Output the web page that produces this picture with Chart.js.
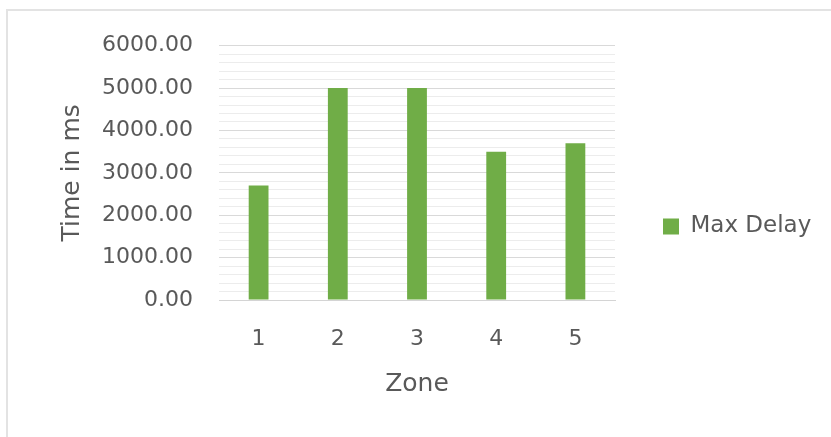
<!DOCTYPE html>
<html>
<head>
<meta charset="utf-8">
<script src="https://cdn.jsdelivr.net/npm/chart.js@4/dist/chart.umd.min.js"></script>
<style>
  html, body { margin: 0; padding: 0; background: #fff; overflow: hidden; }
  #frame {
    position: absolute; left: 6px; top: 9px;
    width: 900px; height: 500px;
    border: 2px solid #e3e3e3; box-sizing: border-box;
  }
  #myChart { position: absolute; left: 0; top: 0; }
</style>
</head>
<body>
<div id="frame"><canvas id="myChart" width="823" height="434"></canvas></div>
<script>
// zones on the x axis and the delay measured in each
const zones = ['1', '2', '3', '4', '5'];
const maxDelay = [2700, 5000, 5000, 3500, 3700];

// y axis range, labelled every 1000 with light lines every 200
const yMin = 0;
const yMax = 6000;
const yMinorStep = 200;
const yMajorStep = 1000;

const textColor = '#595959';
const fontFamily = "'DejaVu Sans', sans-serif";

var ctx = document.getElementById('myChart').getContext('2d');
var myChart = new Chart(ctx, {
    type: 'bar',
    data: {
        labels: zones,
        datasets: [{
            label: 'Max Delay',
            data: maxDelay,
            backgroundColor: '#70ad47',
            barPercentage: 0.25,
            categoryPercentage: 1
        }]
    },
    options: {
        responsive: false,
        animation: false,
        layout: {
            padding: { left: 0, top: 34.7, right: 20, bottom: 46 }
        },
        plugins: {
            tooltip: { enabled: false },
            legend: {
                position: 'right',
                maxWidth: 196,
                // empty title only nudges the single legend item down a little
                title: { display: true, text: '', padding: { top: 7.1, bottom: 0 }, font: { size: 1 } },
                labels: {
                    boxWidth: 16,
                    boxHeight: 16,
                    padding: 48,
                    color: textColor,
                    font: { family: fontFamily, size: 23 }
                }
            }
        },
        scales: {
            x: {
                afterFit: s => { s.height = 99; },
                grid: { display: false, drawTicks: false },
                border: { display: true, color: '#d4d4d4', width: 1 },
                ticks: {
                    color: textColor,
                    padding: 26,
                    font: { family: fontFamily, size: 22 }
                },
                title: {
                    display: true,
                    text: 'Zone',
                    color: textColor,
                    padding: { top: 10, bottom: 0 },
                    font: { family: fontFamily, size: 25 }
                }
            },
            y: {
                min: yMin,
                max: yMax,
                // fixed axis width; the tick padding should not push the plot down
                afterFit: s => { s.width = 211; s.paddingTop = 0; s.paddingBottom = 0; },
                border: { display: false },
                grid: {
                    drawTicks: false,
                    lineWidth: 1,
                    color: c => (c.tick && c.tick.value % yMajorStep === 0) ? '#d9d9d9' : '#ececec'
                },
                ticks: {
                    stepSize: yMinorStep,
                    maxTicksLimit: 100,
                    autoSkip: false,
                    padding: 26,
                    color: textColor,
                    font: { family: fontFamily, size: 22 },
                    callback: v => (v % yMajorStep === 0) ? v.toFixed(2) : ''
                },
                title: {
                    display: true,
                    text: 'Time in ms',
                    color: textColor,
                    padding: { top: 49, bottom: 10 },
                    font: { family: fontFamily, size: 25 }
                }
            }
        }
    }
});
</script>
</body>
</html>
